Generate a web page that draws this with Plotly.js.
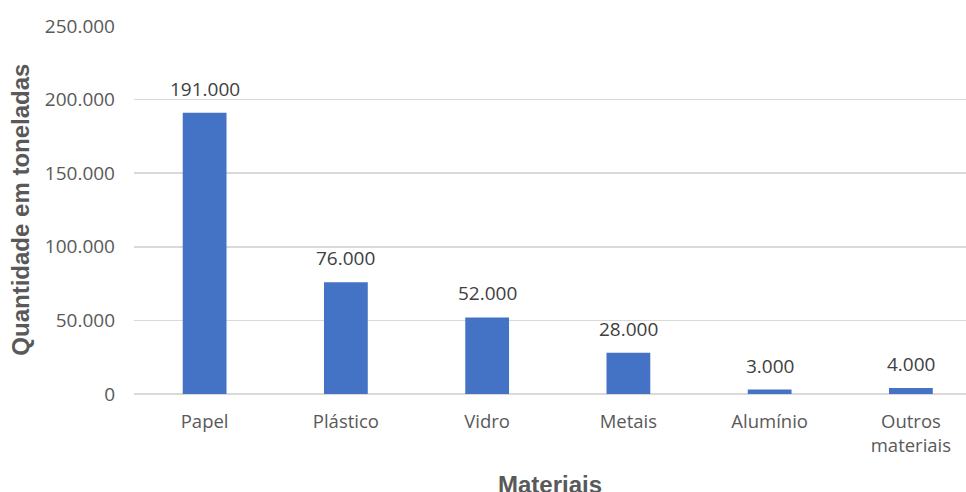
<!DOCTYPE html>
<html>
<head>
<meta charset="utf-8">
<script src="https://cdn.plot.ly/plotly-3.0.1.min.js"></script>
<style>html,body{margin:0;padding:0;background:#fff;}#chart{width:966px;height:492px;}</style>
</head>
<body>
<div id="chart"></div>
<script>
var categories = ["Papel", "Plástico", "Vidro", "Metais", "Alumínio", "Outros<br>materiais"];
var values = [191000, 76000, 52000, 28000, 3000, 4000];
var valueLabels = ["191.000", "76.000", "52.000", "28.000", "3.000", "4.000"];
var yTickVals = [0, 50000, 100000, 150000, 200000, 250000];
var yTickText = ["0", "50.000", "100.000", "150.000", "200.000", "250.000"];

var numFont = "Open Sans, Noto Sans, sans-serif";
var titleFont = "Liberation Sans, Arial, sans-serif";

var trace = {
  type: "bar",
  x: categories,
  y: values,
  marker: {color: "#4472C4"},
  hoverinfo: "skip"
};

var annotations = categories.map(function (c, i) {
  return {
    x: c, y: values[i], xref: "x", yref: "y",
    text: valueLabels[i], showarrow: false,
    yanchor: "bottom", yshift: 9,
    font: {family: numFont, size: 19, color: "#404040"}
  };
});

annotations.push({
  xref: "paper", yref: "paper", x: -0.1358, y: 0.501,
  text: "<b>Quantidade em toneladas</b>", showarrow: false,
  textangle: -90, xanchor: "center", yanchor: "middle",
  font: {family: titleFont, size: 24, color: "#595959"}
});
annotations.push({
  xref: "paper", yref: "paper", x: 0.5, y: -0.2038,
  text: "<b>Materiais</b>", showarrow: false,
  xanchor: "center", yanchor: "top",
  font: {family: titleFont, size: 24, color: "#595959"}
});

var layout = {
  width: 966, height: 492,
  margin: {l: 134, r: 0, t: 26, b: 98, pad: 0},
  paper_bgcolor: "#ffffff",
  plot_bgcolor: "#ffffff",
  showlegend: false,
  bargap: 0.69,
  xaxis: {
    type: "category",
    range: [-0.5, 5.39],
    showgrid: false,
    showline: false,
    zeroline: false,
    ticks: "",
    ticklabelstandoff: 14,
    tickfont: {family: numFont, size: 18.5, color: "#595959"},
    fixedrange: true
  },
  yaxis: {
    range: [0, 250000],
    tickvals: yTickVals,
    ticktext: yTickText,
    showgrid: true,
    gridcolor: "#d9d9d9",
    gridwidth: 1.5,
    zeroline: true,
    zerolinecolor: "#d9d9d9",
    zerolinewidth: 1.5,
    showline: false,
    ticks: "",
    ticklabelstandoff: 18,
    tickfont: {family: numFont, size: 19, color: "#595959"},
    fixedrange: true
  },
  annotations: annotations
};

Plotly.newPlot("chart", [trace], layout, {displayModeBar: false, staticPlot: true});
</script>
</body>
</html>
